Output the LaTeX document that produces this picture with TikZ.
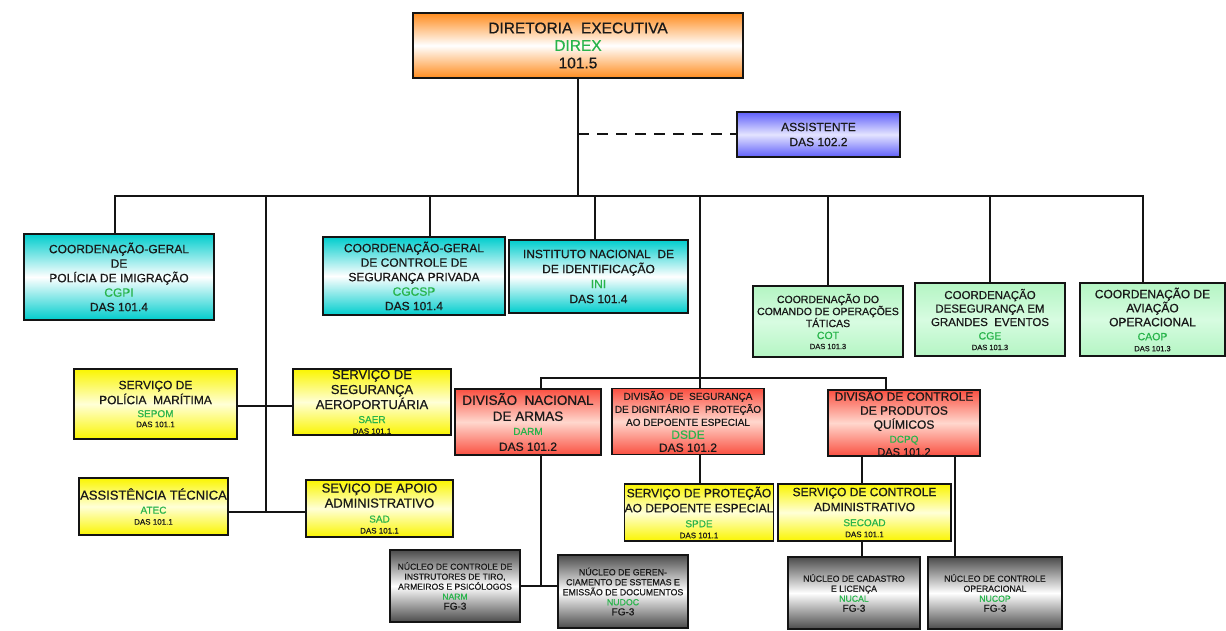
\documentclass[tikz,border=0pt]{standalone}
\usepackage{fontspec}
\setmainfont{Liberation Sans}[FakeBold=0.6]
\usetikzlibrary{calc}
\definecolor{codegreen}{RGB}{40,180,75}
\definecolor{orangeC}{RGB}{255,140,30}
\definecolor{blueC}{RGB}{95,95,250}
\definecolor{blueL}{RGB}{228,228,255}
\definecolor{cyanC}{RGB}{0,205,205}
\definecolor{greenC}{RGB}{180,245,195}
\definecolor{greenL}{RGB}{215,252,225}
\definecolor{yellowC}{RGB}{250,245,0}
\definecolor{yellowL}{RGB}{255,255,215}
\definecolor{redC}{RGB}{250,80,65}
\definecolor{redL}{RGB}{255,215,205}
\definecolor{grayC}{RGB}{75,75,75}
\definecolor{lineC}{RGB}{20,20,20}
\newcommand{\fs}[2]{\fontsize{#1}{#2}\selectfont}
\newcommand{\code}[1]{\textcolor{codegreen}{#1}}
\tikzset{
  box/.style={draw=lineC, line width=1.2pt, inner sep=0pt, align=center, text=black!90},
  orangebox/.style={box, top color=orangeC, bottom color=orangeC, middle color=white},
  bluebox/.style={box, top color=blueC, bottom color=blueC, middle color=blueL},
  cyanbox/.style={box, top color=cyanC, bottom color=cyanC, middle color=white},
  greenbox/.style={box, top color=greenC, bottom color=greenC, middle color=greenL},
  yellowbox/.style={box, top color=yellowC, bottom color=yellowC, middle color=yellowL},
  redbox/.style={box, top color=redC, bottom color=redC, middle color=redL},
  graybox/.style={box, top color=grayC, bottom color=grayC, middle color=white},
  conn/.style={draw=lineC, line width=2pt},
}
\begin{document}
\begin{tikzpicture}[x=1pt,y=-1pt]
\useasboundingbox[fill=white] (0,0) rectangle (1226,631);

% top
\node[orangebox, minimum width=330pt, minimum height=65pt, font=\fs{15.5}{17.5}] (direx) at (578,45.5)
  {DIRETORIA\ \ EXECUTIVA\\\code{DIREX}\\101.5};
\node[bluebox, minimum width=163pt, minimum height=45pt, font=\fs{12}{15}] (assist) at (818.5,134.5)
  {ASSISTENTE\\DAS 102.2};

% second level
\node[cyanbox, minimum width=190pt, minimum height=86pt, font=\fs{12}{14.5}] (cgpi) at (119,277)
  {COORDENAÇÃO-GERAL\\DE\\POLÍCIA DE IMIGRAÇÃO\\\code{CGPI}\\DAS 101.4};
\node[cyanbox, minimum width=182pt, minimum height=78pt, font=\fs{12}{14.5}] (cgcsp) at (414,276)
  {COORDENAÇÃO-GERAL\\DE CONTROLE DE\\SEGURANÇA PRIVADA\\\code{CGCSP}\\DAS 101.4};
\node[cyanbox, minimum width=179pt, minimum height=73pt, font=\fs{12}{15}] (ini) at (598.5,276.5)
  {INSTITUTO NACIONAL\ \ DE\\DE IDENTIFICAÇÃO\\\code{INI}\\DAS 101.4};
\node[greenbox, minimum width=150pt, minimum height=71pt, font=\fs{10.5}{12}] (cot) at (828,321.5)
  {COORDENAÇÃO DO\\COMANDO DE OPERAÇÕES\\TÁTICAS\\\code{COT}\\[-2pt]{\fs{7.5}{11}DAS 101.3}};
\node[greenbox, minimum width=150pt, minimum height=73pt, font=\fs{11.5}{13.5}] (cge) at (990,319.5)
  {COORDENAÇÃO\\DESEGURANÇA EM\\GRANDES\ \ EVENTOS\\{\fs{10.5}{13}\code{CGE}}\\[-3pt]{\fs{7.5}{11}DAS 101.3}};
\node[greenbox, minimum width=145pt, minimum height=73pt, font=\fs{12}{14}] (caop) at (1152.5,319.5)
  {COORDENAÇÃO DE\\AVIAÇÃO\\OPERACIONAL\\{\fs{10.5}{14}\code{CAOP}}\\[-3pt]{\fs{7.5}{11}DAS 101.3}};

% left services
\node[yellowbox, minimum width=163pt, minimum height=70pt, font=\fs{12}{15}] (sepom) at (155.5,404)
  {SERVIÇO DE\\POLÍCIA\ \ MARÍTIMA\\[-2pt]{\fs{10}{12}\code{SEPOM}}\\[-5pt]{\fs{8}{10}DAS 101.1}};
\node[yellowbox, minimum width=158pt, minimum height=66pt, font=\fs{13}{15}] (saer) at (372,402)
  {SERVIÇO DE\\SEGURANÇA\\AEROPORTUÁRIA\\[-1pt]{\fs{10}{13}\code{SAER}}\\[-4pt]{\fs{8}{10}DAS 101.1}};
\node[yellowbox, minimum width=149pt, minimum height=57pt, font=\fs{13}{14}] (atec) at (153.5,506.5)
  {ASSISTÊNCIA TÉCNICA\\{\fs{10}{12}\code{ATEC}}\\[-3pt]{\fs{8}{10}DAS 101.1}};
\node[yellowbox, minimum width=147pt, minimum height=57pt, font=\fs{13}{15}] (sad) at (379.5,508.5)
  {SEVIÇO DE APOIO\\ADMINISTRATIVO\\{\fs{10}{13}\code{SAD}}\\[-4pt]{\fs{8}{10}DAS 101.1}};

% divisions
\node[redbox, minimum width=146pt, minimum height=66pt, font=\fs{13.5}{16}] (darm) at (528,422)
  {DIVISÃO\ \ NACIONAL\\DE ARMAS\\[-2pt]{\fs{10}{13}\code{DARM}}\\{\fs{12}{15}DAS 101.2}};
\node[redbox, minimum width=152pt, minimum height=66pt, font=\fs{10}{13}] (dsde) at (688,421.5)
  {DIVISÃO\ \ DE\ \ SEGURANÇA\\DE DIGNITÁRIO E\ \ PROTEÇÃO\\AO DEPOENTE ESPECIAL\\{\fs{12}{14}\code{DSDE}}\\{\fs{12}{14}DAS 101.2}};
\node[redbox, minimum width=152pt, minimum height=66pt, font=\fs{12}{14}] (dcpq) at (904,423)
  {DIVISÃO DE CONTROLE\\DE PRODUTOS\\QUÍMICOS\\{\fs{10}{13}\code{DCPQ}}\\[-1pt]{\fs{11}{12}DAS 101.2}};

\node[yellowbox, minimum width=148pt, minimum height=57pt, font=\fs{12}{15}] (spde) at (699,512.5)
  {SERVIÇO DE PROTEÇÃO\\AO DEPOENTE ESPECIAL\\{\fs{10}{13.5}\code{SPDE}}\\[-4pt]{\fs{8}{10.5}DAS 101.1}};
\node[yellowbox, minimum width=173pt, minimum height=57pt, font=\fs{12}{15}] (secoad) at (864.5,512.5)
  {SERVIÇO DE CONTROLE\\ADMINISTRATIVO\\{\fs{10}{13.5}\code{SECOAD}}\\[-4pt]{\fs{8}{10.5}DAS 101.1}};

% nucleos
\node[graybox, minimum width=130pt, minimum height=72pt, font=\fs{8.6}{10}] (narm) at (455,586)
  {NÚCLEO DE CONTROLE DE\\INSTRUTORES DE TIRO,\\ARMEIROS E PSICÓLOGOS\\\code{NARM}\\{\fs{10}{12}FG-3}};
\node[graybox, minimum width=130pt, minimum height=73pt, font=\fs{8.8}{10}] (nudoc) at (623,591.5)
  {NÚCLEO DE GEREN-\\CIAMENTO DE SSTEMAS E\\EMISSÃO DE DOCUMENTOS\\\code{NUDOC}\\{\fs{10}{12}FG-3}};
\node[graybox, minimum width=132pt, minimum height=72pt, font=\fs{8.7}{10}] (nucal) at (854,593)
  {NÚCLEO DE CADASTRO\\E LICENÇA\\\code{NUCAL}\\{\fs{10}{13}FG-3}};
\node[graybox, minimum width=134pt, minimum height=72pt, font=\fs{8.7}{10}] (nucop) at (995,593)
  {NÚCLEO DE CONTROLE\\OPERACIONAL\\\code{NUCOP}\\{\fs{10}{13}FG-3}};

% connectors
\coordinate (bus) at (578,196);
\draw[conn] (direx.south) -- (bus);
\draw[conn, dash pattern=on 11pt off 8pt] (direx.south |- assist.west) -- (assist.west);
\draw[conn] ([xshift=-4pt]cgpi.north) |- (bus) -| ([xshift=-9.5pt]caop.north);
\draw[conn] ([xshift=16pt]cgcsp.north) -- ([xshift=16pt]cgcsp.north |- bus);
\draw[conn] ([xshift=-3.5pt]ini.north) -- ([xshift=-3.5pt]ini.north |- bus);
\draw[conn] (cot.north) -- (cot.north |- bus);
\draw[conn] (cge.north) -- (cge.north |- bus);

\coordinate (spinetop) at (266,196);
\coordinate (spinebot) at (266,513);
\draw[conn] (spinetop) -- (spinebot);
\draw[conn] ([yshift=-2pt]sepom.east) -- ([yshift=-2pt]sepom.east -| saer.west);
\draw[conn] ([yshift=-5.5pt]atec.east) -- ([yshift=-5.5pt]atec.east -| sad.west);

\coordinate (dbus) at (700,378);
\draw[conn] (dbus |- bus) -- (dbus);
\draw[conn] ([xshift=13pt]darm.north) |- (dbus) -| ([xshift=-18pt]dcpq.north);
\draw[conn] (dbus) -- (dbus |- dsde.north);
\draw[conn] (dbus |- dsde.south) -- (dbus |- spde.north);
\draw[conn] ([xshift=13pt]darm.south) -- ([xshift=13pt]darm.south |- narm.east);
\draw[conn] (narm.east) -- (narm.east -| nudoc.west);
\draw[conn] ([xshift=-2.5pt]secoad.north) -- ([xshift=-2.5pt]secoad.north |- dcpq.south);
\draw[conn] ([xshift=-2.5pt]secoad.south) -- ([xshift=-2.5pt]secoad.south |- nucal.north);
\draw[conn] ([xshift=-40pt]nucop.north) -- ([xshift=-40pt]nucop.north |- dcpq.south);
\end{tikzpicture}
\end{document}
